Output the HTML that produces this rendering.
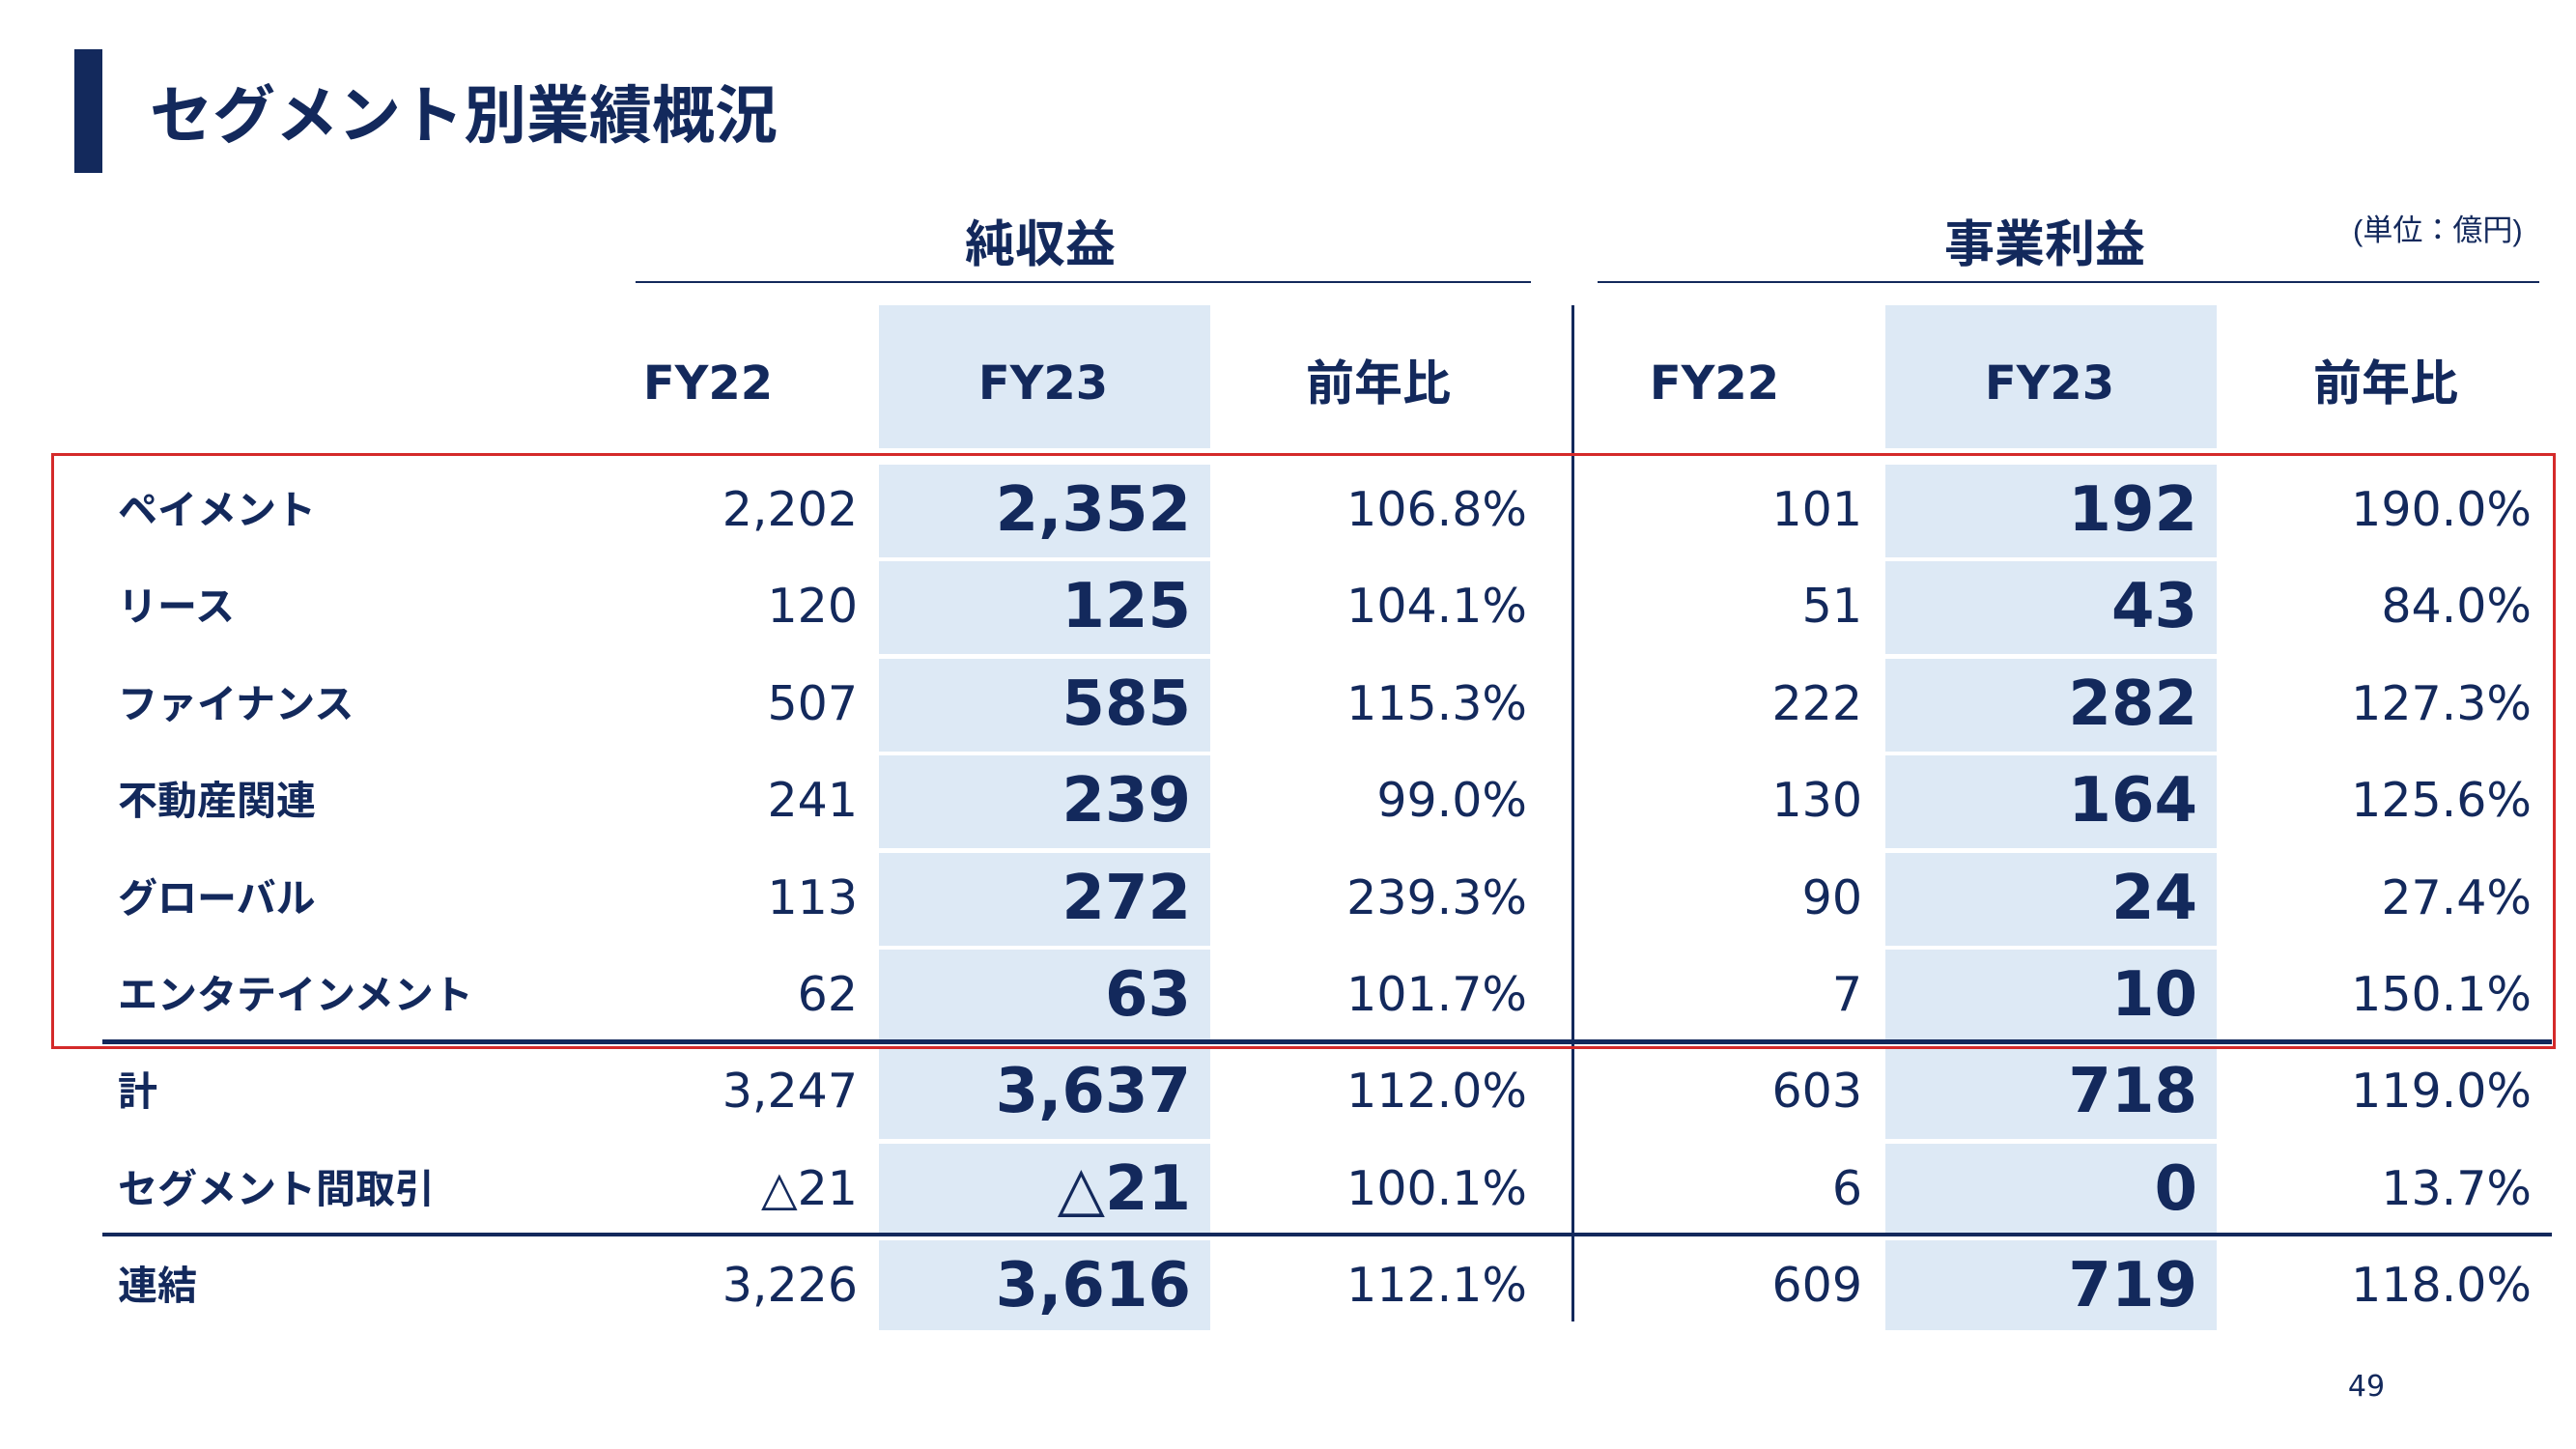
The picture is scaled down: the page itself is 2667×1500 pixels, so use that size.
<!DOCTYPE html>
<html><head><meta charset="utf-8">
<style>
html,body{margin:0;padding:0;background:#fff;}
#page{position:relative;width:2667px;height:1500px;overflow:hidden;background:#fff;color:#13295c;}
.abs{position:absolute;}
.cjk{font-family:"Liberation Sans","Noto Sans CJK JP",sans-serif;font-weight:bold;}
.num{font-family:"DejaVu Sans","Liberation Sans","Noto Sans CJK JP",sans-serif;}
.shade{position:absolute;background:#dde9f5;}
</style></head>
<body>
<div id="page">
  <div class="abs" style="left:77px;top:51px;width:29px;height:128px;background:#13295c;"></div>
  <div class="abs cjk" style="left:155px;top:75px;font-size:65px;line-height:90px;white-space:nowrap;">セグメント別業績概況</div>

  <div class="abs cjk" style="left:897px;width:360px;top:222px;font-size:52px;line-height:64px;text-align:center;">純収益</div>
  <div class="abs" style="left:658px;top:291px;width:927px;height:2px;background:#13295c;"></div>
  <div class="abs cjk" style="left:1937px;width:360px;top:222px;font-size:52px;line-height:64px;text-align:center;">事業利益</div>
  <div class="abs" style="left:1654px;top:291px;width:975px;height:2px;background:#13295c;"></div>
  <div class="abs" style="left:2436px;top:220px;font-family:'Liberation Sans','Noto Sans CJK JP',sans-serif;font-size:31px;line-height:38px;white-space:nowrap;">(単位：億円)</div>

  <div class="shade" style="left:910px;top:316px;width:343px;height:148px;"></div>
  <div class="shade" style="left:1952px;top:316px;width:343px;height:148px;"></div>

  <div id="rows"></div>

  <div class="abs" style="left:1627px;top:316px;width:3px;height:1052px;background:#13295c;"></div>
  <div class="abs" style="left:106px;top:1076px;width:2536px;height:5px;background:#13295c;"></div>
  <div class="abs" style="left:106px;top:1276px;width:2536px;height:4px;background:#13295c;"></div>
  <div class="abs" style="left:53px;top:469px;width:2587px;height:611px;border:3px solid #d42a2a;"></div>

  <div class="abs num" style="left:2420px;top:1418px;width:60px;text-align:center;font-size:30px;line-height:36px;">49</div>
</div>
<script>
const headers = ["FY22","FY23","前年比","FY22","FY23","前年比"];
const segments = ["ペイメント","リース","ファイナンス","不動産関連","グローバル","エンタテインメント","計","セグメント間取引","連結"];
const revFY22 = ["2,202","120","507","241","113","62","3,247","△21","3,226"];
const revFY23 = ["2,352","125","585","239","272","63","3,637","△21","3,616"];
const revYoY = ["106.8%","104.1%","115.3%","99.0%","239.3%","101.7%","112.0%","100.1%","112.1%"];
const opFY22 = ["101","51","222","130","90","7","603","6","609"];
const opFY23 = ["192","43","282","164","24","10","718","0","719"];
const opYoY = ["190.0%","84.0%","127.3%","125.6%","27.4%","150.1%","119.0%","13.7%","118.0%"];

const page = document.getElementById('rows');
const headerCenters = [733,1080,1427,1775,2122,2470];
headers.forEach((h,i)=>{
  const d = document.createElement('div');
  d.className = 'abs ' + (h.startsWith('FY') ? 'num' : 'cjk');
  d.style.cssText = `left:${headerCenters[i]-150}px;width:300px;top:357px;height:80px;line-height:80px;text-align:center;font-size:${h.startsWith('FY')?48:50}px;font-weight:bold;`;
  d.textContent = h;
  
  
  page.appendChild(d);
});

function rowCenter(i){ return 528 + i*100.4; }
const cols = [
  {arr:revFY22, right:888, size:49, bold:false, name:'net-revenue-fy22'},
  {arr:revFY23, right:1233, size:64, bold:true, name:'net-revenue-fy23'},
  {arr:revYoY, right:1581, size:49, bold:false, name:'net-revenue-yoy'},
  {arr:opFY22, right:1928, size:49, bold:false, name:'operating-profit-fy22'},
  {arr:opFY23, right:2275, size:64, bold:true, name:'operating-profit-fy23'},
  {arr:opYoY, right:2621, size:49, bold:false, name:'operating-profit-yoy'}
];
segments.forEach((s,i)=>{
  const c = rowCenter(i);
  [910,1952].forEach(x=>{
    const bg = document.createElement('div');
    bg.className = 'shade';
    bg.style.cssText = `left:${x}px;top:${c-47}px;width:343px;height:${i===8?93:96}px;`;
    
    
    page.appendChild(bg);
  });
  const lab = document.createElement('div');
  lab.className = 'abs cjk';
  lab.style.cssText = `left:122px;top:${c-50}px;height:100px;line-height:100px;font-size:41px;white-space:nowrap;`;
  lab.textContent = s;
  
  
  page.appendChild(lab);
  cols.forEach(col=>{
    const d = document.createElement('div');
    d.className = 'abs num';
    d.style.cssText = `left:${col.right-400}px;width:400px;top:${c-50}px;height:100px;line-height:100px;text-align:right;font-size:${col.size}px;font-weight:${col.bold?'bold':'normal'};white-space:nowrap;`;
    d.textContent = col.arr[i];
    
    
    page.appendChild(d);
  });
});
</script>
</body></html>
